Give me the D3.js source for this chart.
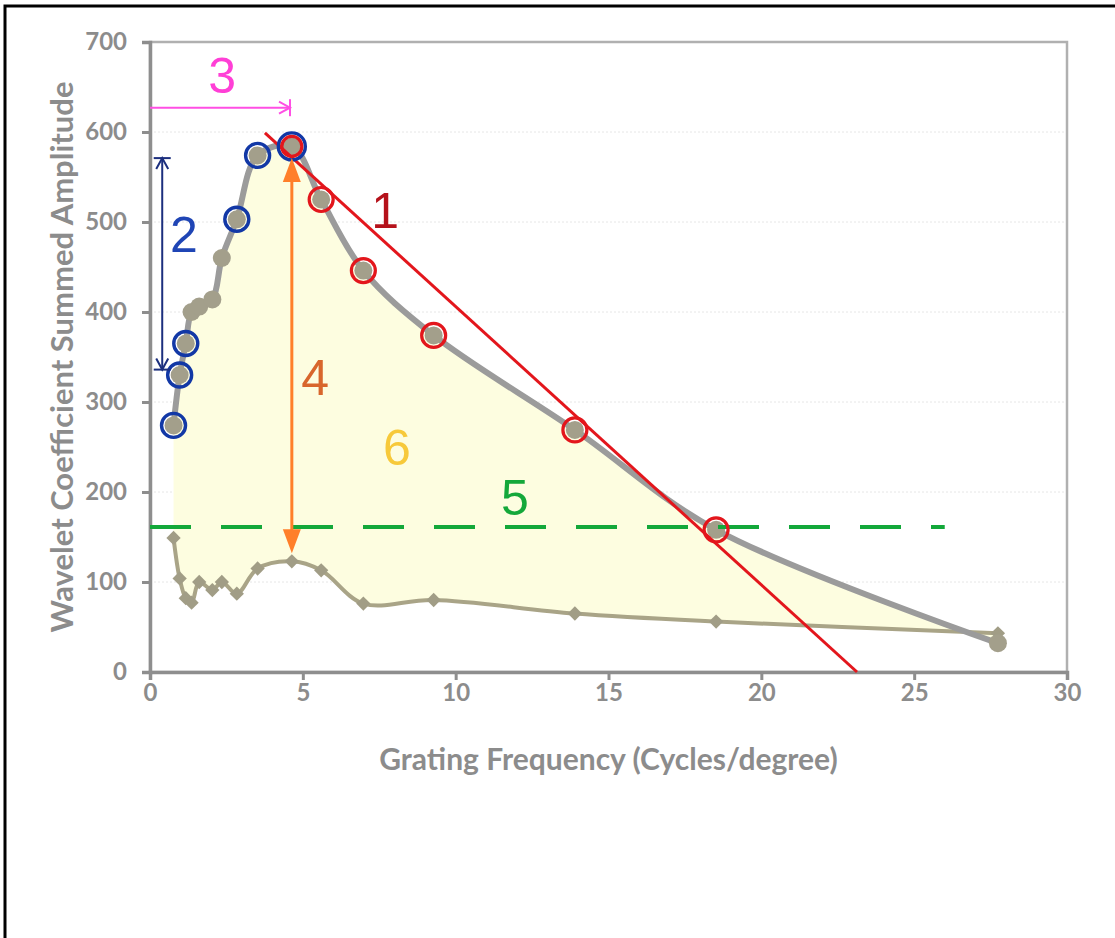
<!DOCTYPE html>
<html>
<head>
<meta charset="utf-8">
<script src="https://cdn.jsdelivr.net/npm/d3@7"></script>
<style>
  body { margin: 0; background: #fff; }
  svg text { font-family: "Lato", "Liberation Sans", sans-serif; }
</style>
</head>
<body>
<div id="chart"></div>
<script>
var width = 1115, height = 938;

// grating frequency (cycles/degree)
var freq = [0.77, 0.97, 1.17, 1.36, 1.61, 2.04, 2.35, 2.84, 3.52, 4.64, 5.6, 6.98, 9.28, 13.9, 18.52, 27.74];
// upper curve: summed amplitude
var upper = [274, 330, 365, 400, 406, 414, 460, 503, 574, 584, 525, 446, 374, 269, 158, 32];
// lower curve
var lower = [149, 104, 82, 77, 100, 91, 100, 87, 115, 123, 113, 76, 80, 65, 56, 43];

var xTicks = [0, 5, 10, 15, 20, 25, 30];
var yTicks = [0, 100, 200, 300, 400, 500, 600, 700];

// which upper points are ringed
var blueRing = [0, 1, 2, 7, 8, 9];
var redRing = [9, 10, 11, 12, 13, 14];

// annotation geometry in data units
var redLine = [[3.76, 599], [23.13, 0]];
var blueArrow = [[0.4, 571], [0.4, 336]];
var pinkArrow = [[0, 627], [4.58, 627]];
var orangeArrow = [[4.64, 571], [4.64, 132]];
var greenLevel = 161, greenEnd = 26.0;

var labels = [
  { t: "1", x: 7.69, y: 493, c: "#b5121b" },
  { t: "2", x: 1.11, y: 467, c: "#1f45b5" },
  { t: "3", x: 2.36, y: 643, c: "#ff3fd6" },
  { t: "4", x: 5.4, y: 308, c: "#d8662c" },
  { t: "5", x: 11.94, y: 174, c: "#14a83a" },
  { t: "6", x: 8.08, y: 230, c: "#f7c93a" }
];

var margin = { left: 150, top: 42, right: 48, bottom: 266 };
var w = width - margin.left - margin.right,
    h = height - margin.top - margin.bottom;

var svg = d3.select("#chart").append("svg")
    .attr("width", width)
    .attr("height", height);

// page border (top + left)
svg.append("path")
    .attr("d", "M5," + height + " L5,6 L" + width + ",6")
    .attr("fill", "none")
    .attr("stroke", "#000")
    .attr("stroke-width", 3);

var g = svg.append("g").attr("transform", "translate(" + margin.left + "," + margin.top + ")");

var x = d3.scaleLinear().domain([0, 30]).range([0, w]);
var y = d3.scaleLinear().domain([0, 700]).range([h, 0]);

// gridlines
g.selectAll(".grid")
    .data(yTicks.slice(1, -1))
  .enter().append("line")
    .attr("x1", 0).attr("x2", w)
    .attr("y1", y).attr("y2", y)
    .attr("stroke", "#e6e6e6")
    .attr("stroke-width", 1)
    .attr("stroke-dasharray", "2,2");

var pts = freq.map(function(f, i) { return { x: f, u: upper[i], l: lower[i] }; });

// shaded region between curves
g.append("path")
    .datum(pts)
    .attr("fill", "#fdfde0")
    .attr("d", d3.area()
        .curve(d3.curveCatmullRom)
        .x(function(d) { return x(d.x); })
        .y0(function(d) { return y(d.l); })
        .y1(function(d) { return y(d.u); }));

// frame
g.append("rect")
    .attr("width", w).attr("height", h)
    .attr("fill", "none")
    .attr("stroke", "#b0b0b0")
    .attr("stroke-width", 2.5);

// axes
var xAxis = g.append("g")
    .attr("transform", "translate(0," + h + ")")
    .call(d3.axisBottom(x).tickValues(xTicks).tickSize(8).tickPadding(4));
var yAxis = g.append("g")
    .call(d3.axisLeft(y).tickValues(yTicks).tickSize(8).tickPadding(15));

[xAxis, yAxis].forEach(function(a) {
  a.select(".domain").attr("stroke", "#8e8e8e").attr("stroke-width", 3.5);
  a.selectAll(".tick line").attr("stroke", "#8e8e8e").attr("stroke-width", 3);
  a.selectAll(".tick text")
      .attr("fill", "#8c8c8c")
      .style("font-size", "24px")
      .style("font-weight", "bold");
});

// axis titles
svg.append("text")
    .attr("x", margin.left + w / 2)
    .attr("y", 770)
    .attr("text-anchor", "middle")
    .attr("fill", "#8c8c8c")
    .style("font-size", "30px")
    .style("font-weight", "bold")
    .text("Grating Frequency (Cycles/degree)");

svg.append("text")
    .attr("transform", "translate(73," + 357 + ") rotate(-90)")
    .attr("text-anchor", "middle")
    .attr("fill", "#8c8c8c")
    .style("font-size", "31px")
    .style("font-weight", "bold")
    .text("Wavelet Coefficient Summed Amplitude");

// lower curve
g.append("path")
    .datum(pts)
    .attr("fill", "none")
    .attr("stroke", "#a9a487")
    .attr("stroke-width", 4)
    .attr("d", d3.line().curve(d3.curveCatmullRom)
        .x(function(d) { return x(d.x); })
        .y(function(d) { return y(d.l); }));

g.selectAll(".diamond")
    .data(pts)
  .enter().append("path")
    .attr("d", d3.symbol().type(d3.symbolDiamond2).size(130))
    .attr("transform", function(d) { return "translate(" + x(d.x) + "," + y(d.l) + ")"; })
    .attr("fill", "#a19d86");

// upper curve
g.append("path")
    .datum(pts)
    .attr("fill", "none")
    .attr("stroke", "#9b9b9b")
    .attr("stroke-width", 6)
    .attr("d", d3.line().curve(d3.curveCatmullRom)
        .x(function(d) { return x(d.x); })
        .y(function(d) { return y(d.u); }));

g.selectAll(".dot")
    .data(pts)
  .enter().append("circle")
    .attr("cx", function(d) { return x(d.x); })
    .attr("cy", function(d) { return y(d.u); })
    .attr("r", 9)
    .attr("fill", "#a39f8b");

// green dashed threshold
g.append("line")
    .attr("x1", 0).attr("x2", x(greenEnd))
    .attr("y1", y(greenLevel)).attr("y2", y(greenLevel))
    .attr("stroke", "#13a83a")
    .attr("stroke-width", 4)
    .attr("stroke-dasharray", "41,30");

// red fit line
g.append("line")
    .attr("x1", x(redLine[0][0])).attr("y1", y(redLine[0][1]))
    .attr("x2", x(redLine[1][0])).attr("y2", y(redLine[1][1]))
    .attr("stroke", "#e3161c")
    .attr("stroke-width", 3);

// rings
g.selectAll(".bring")
    .data(blueRing)
  .enter().append("circle")
    .attr("cx", function(i) { return x(freq[i]); })
    .attr("cy", function(i) { return y(upper[i]); })
    .attr("r", function(i) { return i === 9 ? 13.5 : 12; })
    .attr("fill", "none")
    .attr("stroke", "#1238a6")
    .attr("stroke-width", 3.4);

g.selectAll(".rring")
    .data(redRing)
  .enter().append("circle")
    .attr("cx", function(i) { return x(freq[i]); })
    .attr("cy", function(i) { return y(upper[i]); })
    .attr("r", function(i) { return i === 9 ? 10 : 12; })
    .attr("fill", "none")
    .attr("stroke", "#e3161c")
    .attr("stroke-width", 3.2);

// arrow helpers
function chevron(px, py, dx, dy, color, sw) {
  // open arrowhead at (px,py) pointing in direction (dx,dy)
  var L = 11, W = 6;
  var bx = px - dx * L, by = py - dy * L;
  g.append("path")
      .attr("d", "M" + (bx - dy * W) + "," + (by + dx * W) + " L" + px + "," + py +
                 " L" + (bx + dy * W) + "," + (by - dx * W))
      .attr("fill", "none")
      .attr("stroke", color)
      .attr("stroke-width", sw);
}
function bar(px, py, dx, dy, len, color, sw) {
  g.append("line")
      .attr("x1", px - dy * len / 2).attr("y1", py - dx * len / 2)
      .attr("x2", px + dy * len / 2).attr("y2", py + dx * len / 2)
      .attr("stroke", color).attr("stroke-width", sw);
}
function triangle(px, py, dx, dy, color) {
  var L = 24, W = 9;
  var bx = px - dx * L, by = py - dy * L;
  g.append("path")
      .attr("d", "M" + px + "," + py + " L" + (bx - dy * W) + "," + (by + dx * W) +
                 " L" + (bx + dy * W) + "," + (by - dx * W) + "Z")
      .attr("fill", color);
}

// 2: blue double arrow
var bc = "#1c2f7e";
var b0 = [x(blueArrow[0][0]), y(blueArrow[0][1])], b1 = [x(blueArrow[1][0]), y(blueArrow[1][1])];
g.append("line").attr("x1", b0[0]).attr("y1", b0[1]).attr("x2", b1[0]).attr("y2", b1[1])
    .attr("stroke", bc).attr("stroke-width", 2);
chevron(b0[0], b0[1], 0, -1, bc, 2);
chevron(b1[0], b1[1], 0, 1, bc, 2);
bar(b0[0], b0[1], 0, 1, 17, bc, 2);
bar(b1[0], b1[1], 0, 1, 17, bc, 2);

// 3: magenta arrow
var pc = "#ff4fe4";
var p0 = [x(pinkArrow[0][0]), y(pinkArrow[0][1])], p1 = [x(pinkArrow[1][0]), y(pinkArrow[1][1])];
g.append("line").attr("x1", p0[0]).attr("y1", p0[1]).attr("x2", p1[0]).attr("y2", p1[1])
    .attr("stroke", pc).attr("stroke-width", 2);
chevron(p1[0], p1[1], 1, 0, pc, 2);
bar(p1[0], p1[1], 1, 0, 17, pc, 2);

// 4: orange double arrow
var oc = "#ff7f2a";
var o0 = [x(orangeArrow[0][0]), y(orangeArrow[0][1])], o1 = [x(orangeArrow[1][0]), y(orangeArrow[1][1])];
g.append("line").attr("x1", o0[0]).attr("y1", o0[1] + 10).attr("x2", o1[0]).attr("y2", o1[1] - 10)
    .attr("stroke", oc).attr("stroke-width", 3);
triangle(o0[0], o0[1], 0, -1, oc);
triangle(o1[0], o1[1], 0, 1, oc);

// numbered labels
g.selectAll(".num")
    .data(labels)
  .enter().append("text")
    .attr("x", function(d) { return x(d.x); })
    .attr("y", function(d) { return y(d.y); })
    .attr("text-anchor", "middle")
    .attr("fill", function(d) { return d.c; })
    .style("font-family", "'Liberation Sans', Arial, sans-serif")
    .style("font-size", "50px")
    .text(function(d) { return d.t; });
</script>
</body>
</html>
